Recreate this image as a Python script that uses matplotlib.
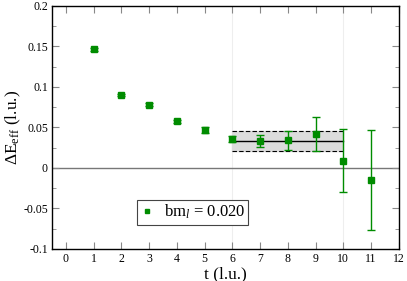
import matplotlib.pyplot as plt
from matplotlib.lines import Line2D
import numpy as np

# data
t = [1, 2, 3, 4, 5, 6, 7, 8, 9, 10, 11]
dE = [0.1465, 0.090, 0.0778, 0.0576, 0.047, 0.036, 0.033, 0.0342, 0.0424, 0.009, -0.015]
dE_err = [0.0018, 0.0018, 0.0018, 0.002, 0.0035, 0.004, 0.0075, 0.012, 0.021, 0.039, 0.062]

fit_range = [6, 10]
fit_val = 0.0337
fit_err = 0.0125
legend_label = r"bm$_{\mathit{l}}$ = 0.020"

plt.rcParams['font.family'] = ['Liberation Serif', 'DejaVu Serif']
plt.rcParams['mathtext.fontset'] = 'custom'
plt.rcParams['mathtext.rm'] = 'Liberation Serif'
plt.rcParams['mathtext.it'] = 'Liberation Serif:italic'

fig = plt.figure(figsize=(4.07, 2.81), dpi=100)
ax = fig.add_axes([0.128, 0.114, 0.852, 0.865])

green = "#008c00"

# fit band
ax.fill_between(fit_range, fit_val - fit_err, fit_val + fit_err, color="#dcdcdc", zorder=1)
ax.plot(fit_range, [fit_val, fit_val], color="black", lw=1, zorder=2)
ax.plot(fit_range, [fit_val + fit_err] * 2, color="black", lw=0.8, ls=(0, (4, 2)), zorder=2)
ax.plot(fit_range, [fit_val - fit_err] * 2, color="black", lw=0.8, ls=(0, (4, 2)), zorder=2)
for x in fit_range:
    ax.axvline(x, color="#eeeeee", lw=0.8, zorder=0.5)

ax.axhline(0, color="#777777", lw=1, zorder=1)

ax.errorbar(t, dE, yerr=dE_err, fmt="s", color=green, ms=4.5, mec=green,
            ecolor=green, elinewidth=1, capsize=3, capthick=1, zorder=3)

ax.set_xlim(-0.5, 12)
ax.set_ylim(-0.1, 0.2)
ax.set_xticks(np.arange(0, 13, 1))
ax.set_yticks([-0.1, -0.05, 0, 0.05, 0.1, 0.15, 0.2])
ax.set_yticklabels(["-0.1", "-0.05", "0", "0.05", "0.1", "0.15", "0.2"])
ax.set_yticks(np.arange(-0.1, 0.2001, 0.025), minor=True)
ax.tick_params(axis="both", which="both", direction="in", top=True, right=True,
               color="#888888", labelsize=8.5, pad=3)
ax.tick_params(which="major", length=5)
ax.tick_params(which="minor", length=3)
for s in ax.spines.values():
    s.set_linewidth(1)

ax.set_xlabel("t (l.u.)", fontsize=12.5)
ax.set_ylabel(r"$\Delta$E$_{\rm eff}$ (l.u.)", fontsize=12.5)
ax.xaxis.set_label_coords(0.5, -0.07)
ax.yaxis.set_label_coords(-0.085, 0.5)

handle = Line2D([], [], ls="none", marker="s", ms=3.5, color=green)
leg = ax.legend([handle], [legend_label], loc="lower left",
                bbox_to_anchor=(0.245, 0.1), fontsize=12,
                fancybox=False, edgecolor="#444444", framealpha=1,
                handlelength=0.8, handletextpad=0.6, borderpad=0.2,
                borderaxespad=0)
leg.get_frame().set_linewidth(0.8)

fig.savefig("out.png", dpi=100)
